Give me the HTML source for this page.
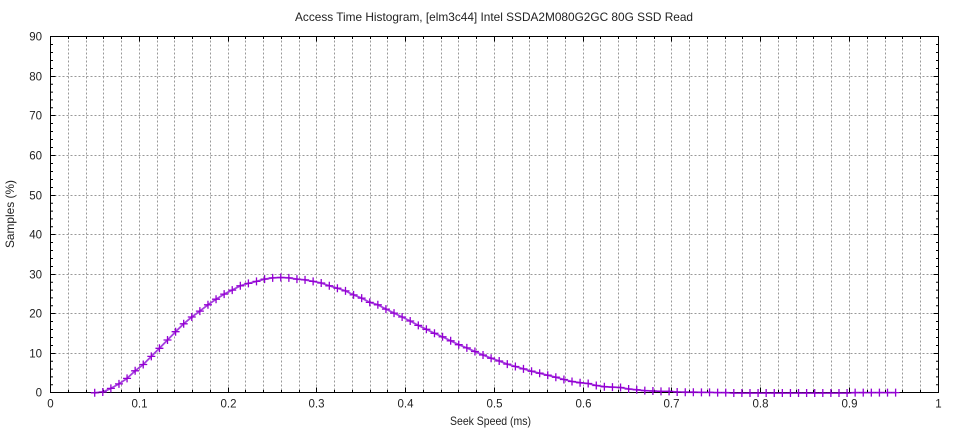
<!DOCTYPE html>
<html><head><meta charset="utf-8"><style>
html,body{margin:0;padding:0;background:#fff;}
svg{display:block;}
text{font-family:"Liberation Sans",sans-serif;fill:#222;}
</style></head><body>
<svg width="960" height="432" viewBox="0 0 960 432" xmlns="http://www.w3.org/2000/svg">
<defs>
<marker id="pl" markerUnits="userSpaceOnUse" markerWidth="12" markerHeight="12" refX="6" refY="6" orient="0" overflow="visible">
<path d="M2 6H10M6 2V10" stroke="#9400d3" stroke-width="1.3" fill="none"/>
</marker>
</defs>
<rect width="960" height="432" fill="#fff"/>
<!-- grid -->
<g stroke="#999" stroke-width="1" stroke-dasharray="2,2" fill="none">
<path d="M68.5 36.5V392.5M86.5 36.5V392.5M103.5 36.5V392.5M121.5 36.5V392.5M139.5 36.5V392.5M157.5 36.5V392.5M174.5 36.5V392.5M192.5 36.5V392.5M210.5 36.5V392.5M228.5 36.5V392.5M245.5 36.5V392.5M263.5 36.5V392.5M281.5 36.5V392.5M299.5 36.5V392.5M316.5 36.5V392.5M334.5 36.5V392.5M352.5 36.5V392.5M370.5 36.5V392.5M387.5 36.5V392.5M405.5 36.5V392.5M423.5 36.5V392.5M441.5 36.5V392.5M458.5 36.5V392.5M476.5 36.5V392.5M494.5 36.5V392.5M512.5 36.5V392.5M529.5 36.5V392.5M547.5 36.5V392.5M565.5 36.5V392.5M583.5 36.5V392.5M600.5 36.5V392.5M618.5 36.5V392.5M636.5 36.5V392.5M654.5 36.5V392.5M671.5 36.5V392.5M689.5 36.5V392.5M707.5 36.5V392.5M725.5 36.5V392.5M742.5 36.5V392.5M760.5 36.5V392.5M778.5 36.5V392.5M796.5 36.5V392.5M813.5 36.5V392.5M831.5 36.5V392.5M849.5 36.5V392.5M867.5 36.5V392.5M885.5 36.5V392.5M902.5 36.5V392.5M920.5 36.5V392.5"/>
<path d="M50.5 353.5H938.5M50.5 313.5H938.5M50.5 274.5H938.5M50.5 234.5H938.5M50.5 195.5H938.5M50.5 155.5H938.5M50.5 115.5H938.5M50.5 76.5H938.5"/>
</g>
<!-- data line -->
<polyline fill="none" stroke="#a53ee0" stroke-width="1.8" stroke-linejoin="round" points="94.7,392.8 102.79,392.0 110.88,388.4 118.97,383.9 127.06,378.4 135.15,370.8 143.24,364.5 151.33,356.4 159.42,348.3 167.51,340.0 175.6,331.7 183.69,323.8 191.78,317.0 199.87,311.1 207.96,304.8 216.05,299.2 224.14,294.1 232.23,290.1 240.32,285.8 248.41,283.4 256.5,281.4 264.59,279.1 272.68,277.9 280.77,277.5 288.86,277.9 296.95,279.1 305.04,279.9 313.13,281.4 321.22,283.0 329.31,285.8 337.4,288.2 345.49,290.9 353.58,294.9 361.67,298.1 369.76,302.4 377.85,304.8 385.94,309.1 394.03,313.1 402.12,317.0 410.21,321.0 418.3,325.4 426.39,329.3 434.48,333.3 442.57,336.8 450.66,340.8 458.75,344.7 466.84,347.9 474.93,351.5 483.02,355.0 491.11,358.2 499.2,361.0 507.29,364.1 515.38,366.5 523.47,368.9 531.56,371.2 539.65,373.2 547.74,375.2 555.83,377.2 563.92,379.5 572.01,381.5 580.1,382.7 588.19,383.5 596.28,385.5 604.37,386.7 612.46,387.1 620.55,387.5 628.64,389.0 636.73,389.8 644.82,390.6 652.91,391.0 661.0,391.4 669.09,391.4 677.18,392.0 685.27,392.2 693.36,392.2 701.45,392.4 709.54,392.4 717.63,392.6 725.72,392.6 733.81,393 741.9,393 749.99,393 758.08,393 766.17,393 774.26,393 782.35,393 790.44,393 798.53,393 806.62,393 814.71,393 822.8,393 830.89,393 838.98,393 847.07,393 855.16,392.6 863.25,392.6 871.34,392.6 879.43,392.6 887.52,392.6 895.61,392.6"/>
<!-- border -->
<rect x="50.5" y="36.5" width="888" height="356" fill="none" stroke="#000" stroke-width="1"/>
<!-- ticks -->
<g stroke="#000" stroke-width="1" fill="none">
<path d="M50.5 353.5h5M50.5 313.5h5M50.5 274.5h5M50.5 234.5h5M50.5 195.5h5M50.5 155.5h5M50.5 115.5h5M50.5 76.5h5M938.5 353.5h-5M938.5 313.5h-5M938.5 274.5h-5M938.5 234.5h-5M938.5 195.5h-5M938.5 155.5h-5M938.5 115.5h-5M938.5 76.5h-5"/>
<path d="M50.5 384.7h2.5M50.5 376.9h2.5M50.5 369.1h2.5M50.5 361.3h2.5M50.5 345.5h2.5M50.5 337.5h2.5M50.5 329.5h2.5M50.5 321.5h2.5M50.5 305.7h2.5M50.5 297.9h2.5M50.5 290.1h2.5M50.5 282.3h2.5M50.5 266.5h2.5M50.5 258.5h2.5M50.5 250.5h2.5M50.5 242.5h2.5M50.5 226.7h2.5M50.5 218.9h2.5M50.5 211.1h2.5M50.5 203.3h2.5M50.5 187.5h2.5M50.5 179.5h2.5M50.5 171.5h2.5M50.5 163.5h2.5M50.5 147.5h2.5M50.5 139.5h2.5M50.5 131.5h2.5M50.5 123.5h2.5M50.5 107.7h2.5M50.5 99.9h2.5M50.5 92.1h2.5M50.5 84.3h2.5M50.5 68.5h2.5M50.5 60.5h2.5M50.5 52.5h2.5M50.5 44.5h2.5"/>
<path d="M938.5 384.7h-2.5M938.5 376.9h-2.5M938.5 369.1h-2.5M938.5 361.3h-2.5M938.5 345.5h-2.5M938.5 337.5h-2.5M938.5 329.5h-2.5M938.5 321.5h-2.5M938.5 305.7h-2.5M938.5 297.9h-2.5M938.5 290.1h-2.5M938.5 282.3h-2.5M938.5 266.5h-2.5M938.5 258.5h-2.5M938.5 250.5h-2.5M938.5 242.5h-2.5M938.5 226.7h-2.5M938.5 218.9h-2.5M938.5 211.1h-2.5M938.5 203.3h-2.5M938.5 187.5h-2.5M938.5 179.5h-2.5M938.5 171.5h-2.5M938.5 163.5h-2.5M938.5 147.5h-2.5M938.5 139.5h-2.5M938.5 131.5h-2.5M938.5 123.5h-2.5M938.5 107.7h-2.5M938.5 99.9h-2.5M938.5 92.1h-2.5M938.5 84.3h-2.5M938.5 68.5h-2.5M938.5 60.5h-2.5M938.5 52.5h-2.5M938.5 44.5h-2.5"/>
<path d="M139.5 392.5v-5M228.5 392.5v-5M316.5 392.5v-5M405.5 392.5v-5M494.5 392.5v-5M583.5 392.5v-5M671.5 392.5v-5M760.5 392.5v-5M849.5 392.5v-5M139.5 36.5v5M228.5 36.5v5M316.5 36.5v5M405.5 36.5v5M494.5 36.5v5M583.5 36.5v5M671.5 36.5v5M760.5 36.5v5M849.5 36.5v5"/>
<path d="M68.5 392.5v-2.5M86.5 392.5v-2.5M103.5 392.5v-2.5M121.5 392.5v-2.5M157.5 392.5v-2.5M174.5 392.5v-2.5M192.5 392.5v-2.5M210.5 392.5v-2.5M245.5 392.5v-2.5M263.5 392.5v-2.5M281.5 392.5v-2.5M299.5 392.5v-2.5M334.5 392.5v-2.5M352.5 392.5v-2.5M370.5 392.5v-2.5M387.5 392.5v-2.5M423.5 392.5v-2.5M441.5 392.5v-2.5M458.5 392.5v-2.5M476.5 392.5v-2.5M512.5 392.5v-2.5M529.5 392.5v-2.5M547.5 392.5v-2.5M565.5 392.5v-2.5M600.5 392.5v-2.5M618.5 392.5v-2.5M636.5 392.5v-2.5M654.5 392.5v-2.5M689.5 392.5v-2.5M707.5 392.5v-2.5M725.5 392.5v-2.5M742.5 392.5v-2.5M778.5 392.5v-2.5M796.5 392.5v-2.5M813.5 392.5v-2.5M831.5 392.5v-2.5M867.5 392.5v-2.5M885.5 392.5v-2.5M902.5 392.5v-2.5M920.5 392.5v-2.5"/>
<path d="M68.5 36.5v2.5M86.5 36.5v2.5M103.5 36.5v2.5M121.5 36.5v2.5M157.5 36.5v2.5M174.5 36.5v2.5M192.5 36.5v2.5M210.5 36.5v2.5M245.5 36.5v2.5M263.5 36.5v2.5M281.5 36.5v2.5M299.5 36.5v2.5M334.5 36.5v2.5M352.5 36.5v2.5M370.5 36.5v2.5M387.5 36.5v2.5M423.5 36.5v2.5M441.5 36.5v2.5M458.5 36.5v2.5M476.5 36.5v2.5M512.5 36.5v2.5M529.5 36.5v2.5M547.5 36.5v2.5M565.5 36.5v2.5M600.5 36.5v2.5M618.5 36.5v2.5M636.5 36.5v2.5M654.5 36.5v2.5M689.5 36.5v2.5M707.5 36.5v2.5M725.5 36.5v2.5M742.5 36.5v2.5M778.5 36.5v2.5M796.5 36.5v2.5M813.5 36.5v2.5M831.5 36.5v2.5M867.5 36.5v2.5M885.5 36.5v2.5M902.5 36.5v2.5M920.5 36.5v2.5"/>
</g>
<!-- markers -->
<polyline fill="none" stroke="none" marker-start="url(#pl)" marker-mid="url(#pl)" marker-end="url(#pl)" points="94.7,392.8 102.79,392.0 110.88,388.4 118.97,383.9 127.06,378.4 135.15,370.8 143.24,364.5 151.33,356.4 159.42,348.3 167.51,340.0 175.6,331.7 183.69,323.8 191.78,317.0 199.87,311.1 207.96,304.8 216.05,299.2 224.14,294.1 232.23,290.1 240.32,285.8 248.41,283.4 256.5,281.4 264.59,279.1 272.68,277.9 280.77,277.5 288.86,277.9 296.95,279.1 305.04,279.9 313.13,281.4 321.22,283.0 329.31,285.8 337.4,288.2 345.49,290.9 353.58,294.9 361.67,298.1 369.76,302.4 377.85,304.8 385.94,309.1 394.03,313.1 402.12,317.0 410.21,321.0 418.3,325.4 426.39,329.3 434.48,333.3 442.57,336.8 450.66,340.8 458.75,344.7 466.84,347.9 474.93,351.5 483.02,355.0 491.11,358.2 499.2,361.0 507.29,364.1 515.38,366.5 523.47,368.9 531.56,371.2 539.65,373.2 547.74,375.2 555.83,377.2 563.92,379.5 572.01,381.5 580.1,382.7 588.19,383.5 596.28,385.5 604.37,386.7 612.46,387.1 620.55,387.5 628.64,389.0 636.73,389.8 644.82,390.6 652.91,391.0 661.0,391.4 669.09,391.4 677.18,392.0 685.27,392.2 693.36,392.2 701.45,392.4 709.54,392.4 717.63,392.6 725.72,392.6 733.81,393 741.9,393 749.99,393 758.08,393 766.17,393 774.26,393 782.35,393 790.44,393 798.53,393 806.62,393 814.71,393 822.8,393 830.89,393 838.98,393 847.07,393 855.16,392.6 863.25,392.6 871.34,392.6 879.43,392.6 887.52,392.6 895.61,392.6"/>
<!-- y labels -->
<g font-size="11.5" text-anchor="end">
<text x="42" y="396.7">0</text>
<text x="42" y="357.7">10</text>
<text x="42" y="317.7">20</text>
<text x="42" y="278.7">30</text>
<text x="42" y="238.7">40</text>
<text x="42" y="199.7">50</text>
<text x="42" y="159.7">60</text>
<text x="42" y="119.7">70</text>
<text x="42" y="80.7">80</text>
<text x="42" y="40.7">90</text>
</g>
<!-- x labels -->
<g font-size="11.5" text-anchor="middle">
<text x="50.5" y="407.5">0</text>
<text x="139.5" y="407.5">0.1</text>
<text x="228.5" y="407.5">0.2</text>
<text x="316.5" y="407.5">0.3</text>
<text x="405.5" y="407.5">0.4</text>
<text x="494.5" y="407.5">0.5</text>
<text x="583.5" y="407.5">0.6</text>
<text x="671.5" y="407.5">0.7</text>
<text x="760.5" y="407.5">0.8</text>
<text x="849.5" y="407.5">0.9</text>
<text x="938.5" y="407.5">1</text>
</g>
<text x="295" y="21" font-size="12" textLength="398" lengthAdjust="spacingAndGlyphs">Access Time Histogram, [elm3c44] Intel SSDA2M080G2GC 80G SSD Read</text>
<text x="450" y="425" font-size="12" textLength="81" lengthAdjust="spacingAndGlyphs">Seek Speed (ms)</text>
<text transform="translate(14,248) rotate(-90)" x="0" y="0" font-size="12" textLength="68" lengthAdjust="spacingAndGlyphs">Samples (%)</text>
</svg>
</body></html>
